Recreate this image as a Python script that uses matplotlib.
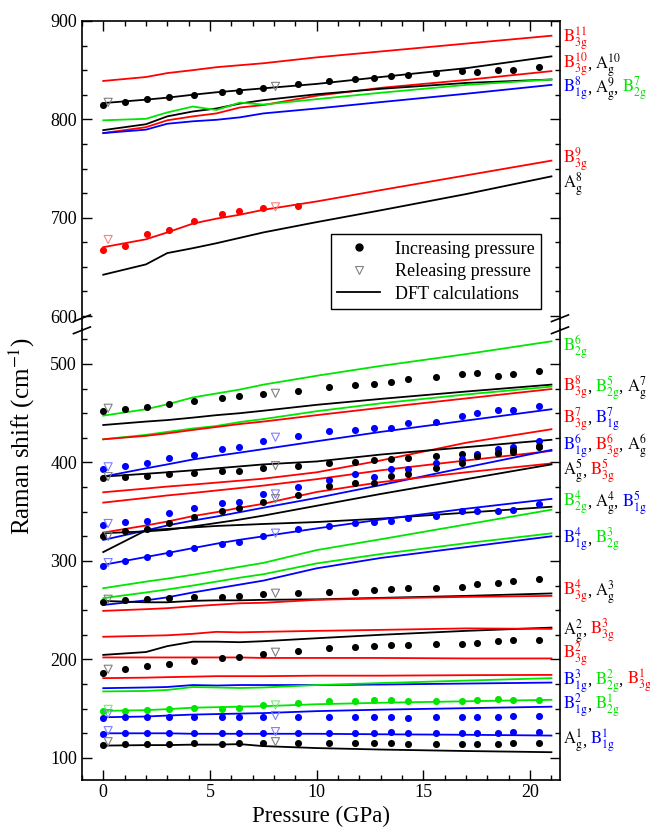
import matplotlib

matplotlib.use("Agg")

import matplotlib.pyplot as plt  # noqa: E402
from matplotlib.lines import Line2D  # noqa: E402
from matplotlib.ticker import MultipleLocator  # noqa: E402
from matplotlib.transforms import IdentityTransform  # noqa: E402

plt.rcParams["font.family"] = ["Liberation Serif", "DejaVu Serif"]
plt.rcParams["mathtext.fontset"] = "stix"

RED = "#ff0000"
GREEN = "#00e600"
BLUE = "#0000ff"
BLACK = "#000000"
RELEASE = {BLACK: "#808080", RED: "#ff8080", BLUE: "#8080ff", GREEN: "#80e680"}

# pressures (GPa)
P_DFT = [0, 2, 3, 4.2, 5.3, 6.4, 7.5, 10, 13, 17, 21]
P_UP = [0, 1.03, 2.04, 3.07, 4.24, 5.56, 6.34, 7.48, 9.12, 10.6,
        11.8, 12.7, 13.5, 14.3, 15.6, 16.8, 17.5, 18.5, 19.2, 20.4]
P_DOWN = [0.23, 8.07]

# DFT frequencies (cm-1), upper panel
B3G11 = [839, 843, 847, 850, 853, 855, 857, 863, 869, 877, 885]
AG10 = [816.5, 820, 822, 825, 827.5, 829.5, 831.5, 836, 843, 852, 864]
B3G10 = [786, 792, 799, 803, 806, 812, 814.5, 824, 832, 840, 849]
AG9 = [789, 795, 803, 808, 811, 816, 819.5, 825.5, 831, 837, 840.5]
B2G7 = [799, 800.5, 807, 813, 809.5, 817, 815, 820.5, 827, 835, 840.5]
B1G8 = [786, 789.5, 795.5, 798, 799.5, 802, 806, 811, 817.5, 826, 835]
B3G9 = [670, 678, 685, 694, 699, 703, 708, 716.5, 728, 743, 758]
AG8 = [642, 652.5, 664, 669, 674, 679.5, 685, 695.5, 707.5, 724, 742]

# DFT frequencies (cm-1), lower panel
B2G6 = [447.5, 454, 459, 466, 470, 474, 479, 488, 498, 510, 523]
AG7 = [438, 441.5, 443, 445.5, 448, 450, 452.5, 458.5, 464.5, 472, 479]
B2G5 = [423.5, 428, 431, 434.5, 437, 441, 444, 452, 460, 469, 477]
B3G8 = [423.5, 427, 429.5, 433, 436, 439, 441.5, 448, 455.5, 465, 474.5]
B1G7 = [385.6, 394, 398, 403, 406.6, 410, 413.5, 421.5, 431, 442.5, 454]
B3G7 = [369.7, 373.5, 375.5, 377.5, 379.5, 381.5, 383.5, 390, 402, 420, 433.7]
AG6 = [385.6, 388.5, 390, 392, 394, 396, 398, 401, 408, 415.5, 423]
B3G6 = [359.2, 364, 366.5, 369, 371.5, 374, 376.5, 383, 392, 402, 411.7]
B1G6 = [321.3, 331, 336, 341, 345, 349.5, 354, 364, 377, 395, 412.7]
B3G5 = [328.8, 336, 340, 345.5, 349.5, 354, 358, 370, 380, 390, 399]
AG5 = [328.2, 330, 331.5, 335, 338.5, 342, 346, 356, 368, 383, 398]
AG4 = [309, 331, 332.5, 334, 335.5, 336.5, 337.5, 339.5, 343, 349, 355]
B1G5 = [296, 304, 308, 313, 317.5, 321.5, 325, 333, 342, 353, 363]
B2G4 = [272.3, 279, 282, 286, 290, 294, 298, 311, 322, 337, 352]
B2G3 = [262.2, 268, 271, 275, 279, 283, 286.5, 297.5, 307, 318, 328]
B1G4 = [255.3, 260, 263, 268, 272, 276, 280, 292.5, 303, 314, 325]
AG3 = [259.4, 258, 258, 259.5, 260, 260, 260.5, 261, 262.5, 264.5, 267]
B3G4 = [249.3, 251, 252, 254, 255.5, 257, 257.5, 260.5, 262, 263.5, 264.5]
AG2 = [204.6, 207.5, 213.5, 218, 218, 217.5, 218.5, 221.5, 225, 229, 232.3]
B3G3 = [223, 224, 224.5, 226, 228, 227.5, 228, 229, 230, 231.5, 231]
B3G2 = [202, 202, 202, 202, 202, 202, 201.5, 201.5, 201.5, 201, 201]
B3G1 = [181, 181.5, 182, 182.5, 183, 183, 183, 183.5, 183.5, 184, 184.3]
B1G3 = [170.8, 171.5, 172, 174, 173.5, 174, 174, 174, 174.5, 175.5, 176.5]
B2G2 = [167.5, 168, 169, 172, 171.5, 171, 171.5, 174, 176, 178.5, 181]
B2G1 = [147.7, 148.5, 149.5, 151, 151.5, 152, 152.5, 154.5, 156, 157.5, 159]
B1G2 = [141.3, 142, 143, 144, 144.5, 145, 145.5, 147.5, 149, 150.5, 152]
B1G1 = [125, 125, 125, 124.5, 124.5, 124.5, 124.5, 124.5, 124, 123.5, 122.7]
AG1 = [112.5, 113, 113, 113.5, 113.5, 114, 112, 110, 108.5, 107, 105.8]

# measured peaks, increasing pressure
EXP_AG10 = [814.6, 818, 820.7, 822.8, 825.1, 827.9, 829.2, 832, 836.1, 839.2,
            840.9, 842.3, 843.7, 845, 846.7, 849.1, 848.4, 849.8, 850.5, 852.9]
EXP_B3G9 = [667.6, 671.3, 683, 687.4, 696.9, 704.1, 707.2, 710, 712.3]
EXP_TOP = [452.6, 454, 456.6, 459.7, 462.4, 465.1, 467.2, 469.5, 472.9, 476.2,
           478.6, 479.9, 482, 484.4, 486.8, 490.1, 490.5, 488.1, 489.5, 493.2]
EXP_B1G7 = [393, 396.4, 399.8, 404.3, 407.6, 413.4, 415.4, 422.1, 427.2, 431.7,
            433, 434.7, 435.3, 440.1, 441.4, 447.2, 449.9, 453, 453.3, 457.7]
EXP_AG6 = [384.6, 385, 386.7, 388, 389.3, 391, 391.7, 394.1, 396.8, 399.2,
           400.6, 402.6, 403.6, 404.9, 406.6, 408.6, 407.9, 409.9, 410.9, 415.4]
EXP_B1G6 = [336.5, 339.9, 340.9, 348.4, 354.1, 358.6, 360.2, 368, 375.4, 382.2,
            388.3, 385.6, 392.9, 393.6, 399.8, 403.2, 408.3, 413.7, 416, 422.1]
EXP_AG5 = [325.4, 330.5, 332.2, 338.3, 345, 350.8, 354.1, 360.2, 367, 376.1,
           378.9, 379.5, 386.6, 388, 394.1, 399.8, 406.6, 410, 412.7, 416.8]
EXP_B1G5 = [295.2, 300.3, 304.4, 308.4, 313.5, 317.3, 319.6, 325.6, 332.4, 335.8,
            338.1, 339.2, 340.9, 343.6, 346, 351.1, 350.4, 351.1, 352.1, 358.2]
EXP_AG3 = [258.7, 260.4, 261.1, 262.1, 263.1, 263.8, 264.5, 266.2, 267.2, 268.9,
           268.9, 270.6, 271.6, 272.3, 272.3, 273.3, 276.6, 278, 279.4, 281.4]
EXP_AG2 = [186.6, 190.4, 193.4, 195.4, 198.2, 201.2, 202.2, 205.6, 209, 211.4,
           212.7, 213.7, 214.7, 214.7, 215.4, 216, 216.8, 218.5, 219.8, 219.8]
EXP_B2G1 = [147.7, 148, 148.7, 149.7, 150.4, 149.3, 150.4, 153.8, 156.2, 157.6,
            157.9, 158.6, 158.9, 157.9, 157.9, 157.9, 158.9, 159.9, 158.9, 158.9]
EXP_B1G2 = [140.3, 141.3, 141.3, 141.3, 142, 141.3, 141.3, 141.3, 141.3, 141.3,
            142, 142, 142, 140.3, 141.3, 141.3, 141.3, 141.3, 142.6, 142.6]
EXP_B1G1 = [124.4, 125.1, 125.1, 125.1, 125.8, 125.1, 125.8, 125.8, 125.8, 125.8,
            125.8, 125.8, 126.4, 125.1, 125.1, 125.8, 125.8, 125.8, 126.4, 126.7]
EXP_AG1 = [113.2, 114.2, 114.2, 114.2, 114.9, 114.2, 114.9, 115.5, 114.9, 115.5,
           115.5, 115.5, 115.5, 114.2, 114.2, 113.9, 114.2, 114.2, 114.9, 114.9]

# measured peaks, releasing pressure (at P_DOWN)
REL_AG10 = [817.3, 833.5]
REL_B3G9 = [677.8, 711]
REL_TOP = [455, 470.2]
REL_B1G7 = [395.6, 425.6]
REL_AG6 = [385.6, 396.7]
REL_B1G6 = [338, 368]
REL_AG5 = [325, 363.2]
REL_B1G5 = [298.3, 328.2]
REL_AG3 = [261.1, 267.2]
REL_AG2 = [190, 207.3]
REL_B2G1 = [149.3, 153.8]
REL_B1G2 = [145, 143]
REL_B1G1 = [127.7, 126.7]
REL_AG1 = [116.5, 116.5]

UPPER_LINES = [(B3G11, RED), (AG10, BLACK), (B3G10, RED), (AG9, BLACK),
               (B2G7, GREEN), (B1G8, BLUE), (B3G9, RED), (AG8, BLACK)]
LOWER_LINES = [(B2G6, GREEN), (AG7, BLACK), (B2G5, GREEN), (B3G8, RED),
               (B1G7, BLUE), (B3G7, RED), (AG6, BLACK), (B3G6, RED),
               (B1G6, BLUE), (B3G5, RED), (AG5, BLACK), (AG4, BLACK),
               (B1G5, BLUE), (B2G4, GREEN), (B2G3, GREEN), (B1G4, BLUE),
               (AG3, BLACK), (B3G4, RED), (AG2, BLACK), (B3G3, RED),
               (B3G2, RED), (B3G1, RED), (B1G3, BLUE), (B2G2, GREEN),
               (B2G1, GREEN), (B1G2, BLUE), (B1G1, BLUE), (AG1, BLACK)]
UPPER_POINTS = [(EXP_AG10, REL_AG10, BLACK), (EXP_B3G9, REL_B3G9, RED)]
LOWER_POINTS = [(EXP_TOP, REL_TOP, BLACK), (EXP_B1G7, REL_B1G7, BLUE),
                (EXP_AG6, REL_AG6, BLACK), (EXP_B1G6, REL_B1G6, BLUE),
                (EXP_AG5, REL_AG5, BLACK), (EXP_B1G5, REL_B1G5, BLUE),
                (EXP_AG3, REL_AG3, BLACK), (EXP_AG2, REL_AG2, BLACK),
                (EXP_B2G1, REL_B2G1, GREEN), (EXP_B1G2, REL_B1G2, BLUE),
                (EXP_B1G1, REL_B1G1, BLUE), (EXP_AG1, REL_AG1, BLACK)]


def mode(letter, sub, sup):
    return rf"$\mathrm{{{letter}}}_{{\mathrm{{{sub}}}}}^{{{sup}}}$"


UPPER_LABELS = [
    (883, [(mode("B", "3g", "11"), RED)]),
    (857, [(mode("B", "3g", "10"), RED), (mode("A", "g", "10"), BLACK)]),
    (832, [(mode("B", "1g", "8"), BLUE), (mode("A", "g", "9"), BLACK),
           (mode("B", "2g", "7"), GREEN)]),
    (760, [(mode("B", "3g", "9"), RED)]),
    (736, [(mode("A", "g", "8"), BLACK)]),
]
LOWER_LABELS = [
    (518, [(mode("B", "2g", "6"), GREEN)]),
    (477, [(mode("B", "3g", "8"), RED), (mode("B", "2g", "5"), GREEN),
           (mode("A", "g", "7"), BLACK)]),
    (445, [(mode("B", "3g", "7"), RED), (mode("B", "1g", "7"), BLUE)]),
    (418, [(mode("B", "1g", "6"), BLUE), (mode("B", "3g", "6"), RED),
           (mode("A", "g", "6"), BLACK)]),
    (392, [(mode("A", "g", "5"), BLACK), (mode("B", "3g", "5"), RED)]),
    (360, [(mode("B", "2g", "4"), GREEN), (mode("A", "g", "4"), BLACK),
           (mode("B", "1g", "5"), BLUE)]),
    (323, [(mode("B", "1g", "4"), BLUE), (mode("B", "2g", "3"), GREEN)]),
    (270, [(mode("B", "3g", "4"), RED), (mode("A", "g", "3"), BLACK)]),
    (230, [(mode("A", "g", "2"), BLACK), (mode("B", "3g", "3"), RED)]),
    (206, [(mode("B", "3g", "2"), RED)]),
    (179, [(mode("B", "1g", "3"), BLUE), (mode("B", "2g", "2"), GREEN),
           (mode("B", "3g", "1"), RED)]),
    (154, [(mode("B", "1g", "2"), BLUE), (mode("B", "2g", "1"), GREEN)]),
    (118, [(mode("A", "g", "1"), BLACK), (mode("B", "1g", "1"), BLUE)]),
]

fig = plt.figure(figsize=(6.5, 8.32), dpi=100)
ax_top = fig.add_axes([0.126, 0.6166, 0.7355, 0.3582])
ax_bot = fig.add_axes([0.126, 0.0630, 0.7355, 0.5410])

for ax, lines, points in ((ax_top, UPPER_LINES, UPPER_POINTS),
                          (ax_bot, LOWER_LINES, LOWER_POINTS)):
    for values, color in lines:
        ax.plot(P_DFT, values, color=color, lw=1.3, zorder=2)
    for up, down, color in points:
        ax.scatter(P_UP[:len(up)], up, s=26, color=color, zorder=4, linewidths=0)
        ax.scatter(P_DOWN, down, s=34, marker="v", facecolors="none",
                   edgecolors=RELEASE[color], linewidths=0.8, zorder=5)
    ax.set_xlim(-1.0, 21.4)
    ax.xaxis.set_major_locator(MultipleLocator(5))
    ax.xaxis.set_minor_locator(MultipleLocator(1))
    ax.yaxis.set_major_locator(MultipleLocator(100))
    ax.yaxis.set_minor_locator(MultipleLocator(25))
    ax.tick_params(which="both", direction="in", right=True, labelsize=13,
                   width=1.0)
    ax.tick_params(which="major", length=7)
    ax.tick_params(which="minor", length=3.5)
    for spine in ax.spines.values():
        spine.set_linewidth(1.2)

ax_top.set_ylim(597, 900)
ax_bot.set_ylim(78, 535)
ax_top.spines["bottom"].set_visible(False)
ax_bot.spines["top"].set_visible(False)
ax_top.tick_params(axis="x", which="both", bottom=False, top=True,
                   labelbottom=False)
ax_bot.tick_params(axis="x", which="both", top=False, bottom=True)
ax_top.set_yticks([600, 700, 800, 900])
ax_bot.set_yticks([100, 200, 300, 400, 500])

ax_bot.set_xlabel("Pressure (GPa)", fontsize=16.5, labelpad=3)
fig.text(0.034, 0.476, r"Raman shift (cm$^{-1}$)", rotation=90, fontsize=18,
         ha="center", va="center")

# axis break
y_gap_top = 0.6166
y_gap_bot = 0.6040
for x in (0.126, 0.8615):
    fig.add_artist(Line2D([x, x], [y_gap_bot, y_gap_top], color=BLACK, lw=1.2))
    for yc in (0.6175, 0.6030):
        fig.add_artist(Line2D([x - 0.013, x + 0.013], [yc - 0.004, yc + 0.004],
                              color=BLACK, lw=1.2))

handles = [
    Line2D([], [], ls="none", marker="o", color=BLACK, markersize=5),
    Line2D([], [], ls="none", marker="v", markerfacecolor="none",
           markeredgecolor="#808080", markersize=6, markeredgewidth=0.8),
    Line2D([], [], color=BLACK, lw=1.3),
]
ax_top.legend(handles, ["Increasing pressure", "Releasing pressure",
                        "DFT calculations"],
              loc="lower right", bbox_to_anchor=(0.96, 0.034), fontsize=13,
              frameon=True, fancybox=False, edgecolor=BLACK, framealpha=1,
              handlelength=2.4, borderpad=0.35, labelspacing=0.3,
              borderaxespad=0)

# mode labels at the right side
LABEL_SIZE = 12
renderer = fig.canvas.get_renderer()
x_start = 0.8665 * fig.bbox.width
for ax, labels in ((ax_top, UPPER_LABELS), (ax_bot, LOWER_LABELS)):
    for y_value, pieces in labels:
        y_disp = ax.transData.transform((0, y_value))[1] - 5
        x = x_start
        for i, (text, color) in enumerate(pieces):
            if i > 0:
                comma = fig.text(x - 1, y_disp, ",", transform=IdentityTransform(),
                                 fontsize=LABEL_SIZE, color=BLACK, va="baseline")
                x = comma.get_window_extent(renderer).x1 + 4
            t = fig.text(x, y_disp, text, transform=IdentityTransform(),
                         fontsize=LABEL_SIZE, color=color, va="baseline")
            x = t.get_window_extent(renderer).x1

fig.savefig("out.png", dpi=100)
